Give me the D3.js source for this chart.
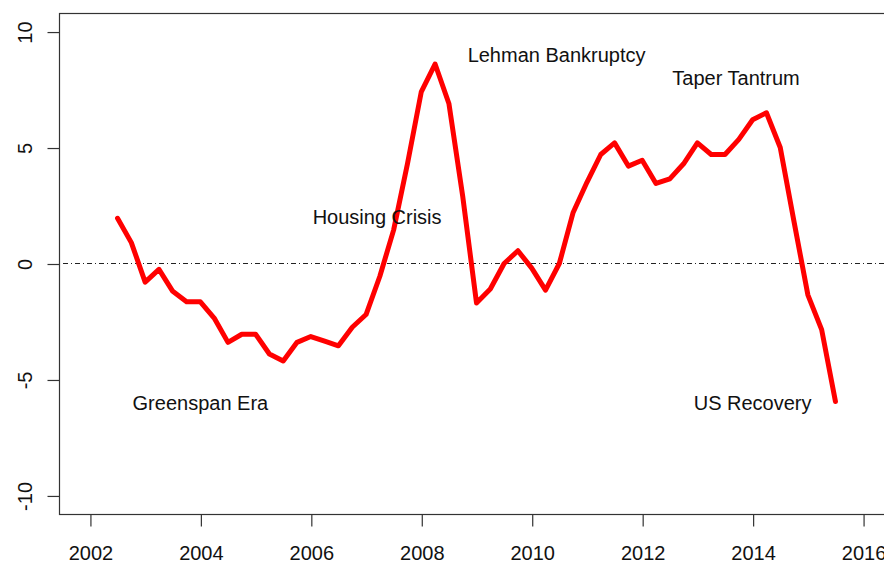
<!DOCTYPE html>
<html>
<head>
<meta charset="utf-8">
<script src="https://cdn.jsdelivr.net/npm/d3@7"></script>
<style>
  html, body { margin: 0; padding: 0; background: #fff; }
  svg { display: block; }
  text { font-family: "Liberation Sans", Arial, sans-serif; fill: #111; }
</style>
</head>
<body>
<svg id="chart" width="884" height="563"></svg>
<script>
// ---- data ----
const quarters = [
  2002.5, 2002.75,
  2003.0, 2003.25, 2003.5, 2003.75,
  2004.0, 2004.25, 2004.5, 2004.75,
  2005.0, 2005.25, 2005.5, 2005.75,
  2006.0, 2006.25, 2006.5, 2006.75,
  2007.0, 2007.25, 2007.5, 2007.75,
  2008.0, 2008.25, 2008.5, 2008.75,
  2009.0, 2009.25, 2009.5, 2009.75,
  2010.0, 2010.25, 2010.5, 2010.75,
  2011.0, 2011.25, 2011.5, 2011.75,
  2012.0, 2012.25, 2012.5, 2012.75,
  2013.0, 2013.25, 2013.5, 2013.75,
  2014.0, 2014.25, 2014.5, 2014.75,
  2015.0, 2015.25, 2015.5
];
const values = [
  1.95, 0.9,
  -0.8, -0.25, -1.2, -1.65,
  -1.65, -2.35, -3.4, -3.05,
  -3.05, -3.9, -4.2, -3.4,
  -3.15, -3.35, -3.55, -2.75,
  -2.2, -0.55, 1.45, 4.3,
  7.4, 8.6, 6.9, 2.9,
  -1.7, -1.1, 0.0, 0.55,
  -0.2, -1.15, 0.0, 2.2,
  3.5, 4.7, 5.2, 4.2,
  4.45, 3.45, 3.65, 4.3,
  5.2, 4.7, 4.7, 5.35,
  6.2, 6.5, 5.0, 1.8,
  -1.35, -2.85, -5.95
];
const xTicks = [2002, 2004, 2006, 2008, 2010, 2012, 2014, 2016];
const yTicks = [-10, -5, 0, 5, 10];
const annotationLabels = ["Greenspan Era", "Housing Crisis", "Lehman Bankruptcy", "Taper Tantrum", "US Recovery"];
const annotationX = [2004.0, 2007.2, 2010.45, 2013.7, 2014.0];
const annotationY = [-6, 2, 9, 8, -6];

// ---- layout ----
const svg = d3.select("#chart");
const box = { left: 59, top: 13, right: 894, bottom: 514 };
const x = d3.scaleLinear().domain([2001.44, 2016.56]).range([box.left, box.right]);
const y = d3.scaleLinear().domain([-10.8, 10.8]).range([box.bottom, box.top]);
const axisColor = "#333";

// zero reference line (dot-dash)
svg.append("line")
  .attr("x1", box.left).attr("x2", box.right)
  .attr("y1", y(0)).attr("y2", y(0))
  .attr("stroke", "#222").attr("stroke-width", 1.2)
  .attr("stroke-dasharray", "1,3,5,3");

// series line
const line = d3.line().x((d, i) => x(quarters[i])).y(d => y(d));
svg.append("path")
  .datum(values)
  .attr("d", line)
  .attr("fill", "none")
  .attr("stroke", "#ff0000")
  .attr("stroke-width", 5)
  .attr("stroke-linejoin", "round")
  .attr("stroke-linecap", "round");

// plot box
svg.append("rect")
  .attr("x", box.left + 0.5).attr("y", box.top + 0.5)
  .attr("width", box.right - box.left).attr("height", box.bottom - box.top)
  .attr("fill", "none").attr("stroke", axisColor).attr("stroke-width", 1.2);

// x axis
const xAxis = d3.axisBottom(x).tickValues(xTicks).tickSize(12).tickPadding(19).tickFormat(d => String(d));
const gx = svg.append("g").attr("transform", `translate(0.5,${box.bottom + 0.5})`).call(xAxis);
gx.select(".domain").remove();
gx.selectAll(".tick line").attr("stroke", axisColor).attr("stroke-width", 1.2);
gx.selectAll(".tick text").attr("font-size", 20).style("font-family", '"Liberation Sans", Arial, sans-serif').attr("fill", "#111");

// y axis (plain hyphen for negatives, as in the reference)
const yAxis = d3.axisLeft(y).tickValues(yTicks).tickSize(12).tickFormat(d => String(d));
const gy = svg.append("g").attr("transform", `translate(${box.left + 0.5},0.5)`).call(yAxis);
gy.select(".domain").remove();
gy.selectAll(".tick line").attr("stroke", axisColor).attr("stroke-width", 1.2);
gy.selectAll(".tick text")
  .attr("font-size", 20)
  .style("font-family", '"Liberation Sans", Arial, sans-serif')
  .attr("fill", "#111")
  .attr("x", null).attr("dy", null)
  .attr("text-anchor", "middle")
  .attr("transform", "translate(-28,0) rotate(-90)");

// annotations
svg.append("g").selectAll("text")
  .data(annotationLabels)
  .join("text")
  .attr("x", (d, i) => x(annotationX[i]))
  .attr("y", (d, i) => y(annotationY[i]))
  .attr("dy", "0.35em")
  .attr("text-anchor", "middle")
  .attr("font-size", 20)
  .text(d => d);
</script>
</body>
</html>
